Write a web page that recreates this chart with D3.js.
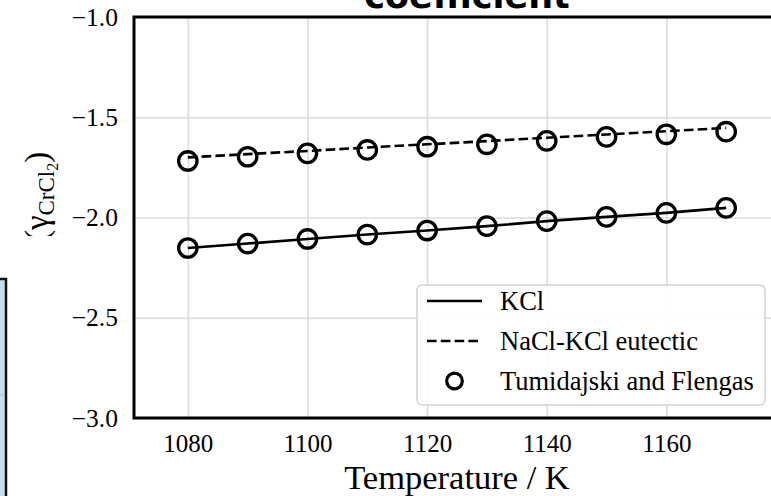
<!DOCTYPE html>
<html>
<head>
<meta charset="utf-8">
<script src="https://cdn.jsdelivr.net/npm/d3@7"></script>
<style>
  html, body { margin: 0; padding: 0; background: #fff; overflow: hidden; }
  svg { display: block; }
</style>
</head>
<body>
<svg id="chart" width="771" height="496"></svg>
<script>
// Temperatures (K)
const temperatures = [1080, 1090, 1100, 1110, 1120, 1130, 1140, 1150, 1160, 1170];
// Model curves, log activity coefficient of CrCl2
const kclModel = [-2.152, -2.130, -2.107, -2.085, -2.065, -2.043, -2.018, -1.997, -1.977, -1.952];
const eutecticModel = [-1.700, -1.684, -1.668, -1.651, -1.635, -1.619, -1.602, -1.586, -1.570, -1.553];
// Measurements (Tumidajski and Flengas)
const kclMeasured = [-2.152, -2.130, -2.107, -2.085, -2.065, -2.043, -2.018, -1.997, -1.977, -1.952];
const eutecticMeasured = [-1.718, -1.697, -1.680, -1.663, -1.647, -1.635, -1.618, -1.598, -1.585, -1.572];
// Axis ticks
const xTicks = [1080, 1100, 1120, 1140, 1160];
const yTicks = [-3.0, -2.5, -2.0, -1.5, -1.0];
const legendLabels = ["KCl", "NaCl-KCl eutectic", "Tumidajski and Flengas"];

const svg = d3.select("#chart");
const serif = "'Liberation Serif', 'Times New Roman', serif";

const plotLeft = 134, plotRight = 780, plotTop = 17, plotBottom = 418;
const x = d3.scaleLinear().domain([1071, 1179]).range([plotLeft, plotRight]);
const y = d3.scaleLinear().domain([-3, -1]).range([plotBottom, plotTop]);

// neighbouring panel fragment at the far left
svg.append("rect")
  .attr("x", -20).attr("y", 279).attr("width", 26).attr("height", 240)
  .attr("fill", "#c9dcec").attr("stroke", "#111").attr("stroke-width", 2.5);
svg.append("line")
  .attr("x1", 0).attr("x2", 4.5).attr("y1", 395).attr("y2", 395)
  .attr("stroke", "#b8c4cc").attr("stroke-width", 1.2);

// grid
const grid = svg.append("g");
grid.append("g")
  .attr("transform", `translate(0,${plotBottom})`)
  .call(d3.axisBottom(x).tickValues(xTicks).tickSize(-(plotBottom - plotTop)).tickFormat(""))
  .call(g => g.select(".domain").remove())
  .call(g => g.selectAll("line").attr("stroke", "#dcdcdc").attr("stroke-width", 1.6));
grid.append("g")
  .attr("transform", `translate(${plotLeft},0)`)
  .call(d3.axisLeft(y).tickValues(yTicks).tickSize(-(plotRight - plotLeft)).tickFormat(""))
  .call(g => g.select(".domain").remove())
  .call(g => g.selectAll("line").attr("stroke", "#dcdcdc").attr("stroke-width", 1.6));

// tick labels
svg.append("g")
  .attr("transform", `translate(0,${plotBottom})`)
  .call(d3.axisBottom(x).tickValues(xTicks).tickSize(0).tickPadding(16).tickFormat(d3.format("d")))
  .call(g => g.select(".domain").remove())
  .call(g => g.selectAll("text").attr("font-family", serif).attr("font-size", 25).attr("fill", "#000"));
svg.append("g")
  .attr("transform", `translate(${plotLeft},0)`)
  .call(d3.axisLeft(y).tickValues(yTicks).tickSize(0).tickPadding(16).tickFormat(d3.format(".1f")))
  .call(g => g.select(".domain").remove())
  .call(g => g.selectAll("text").attr("font-family", serif).attr("font-size", 25.5).attr("fill", "#000"));

// lines
const line = d3.line().x((d, i) => x(temperatures[i])).y(d => y(d));
svg.append("path").datum(kclModel).attr("d", line)
  .attr("fill", "none").attr("stroke", "#000").attr("stroke-width", 2.6);
svg.append("path").datum(eutecticModel).attr("d", line)
  .attr("fill", "none").attr("stroke", "#000").attr("stroke-width", 2.6)
  .attr("stroke-dasharray", "9.6,4.2");

// measured points
[kclMeasured, eutecticMeasured].forEach(series => {
  svg.append("g").selectAll("circle").data(series).join("circle")
    .attr("cx", (d, i) => x(temperatures[i]))
    .attr("cy", d => y(d))
    .attr("r", 9.2)
    .attr("fill", "none").attr("stroke", "#000").attr("stroke-width", 3.3);
});

// spines
svg.append("rect")
  .attr("x", plotLeft).attr("y", plotTop).attr("width", plotRight - plotLeft).attr("height", plotBottom - plotTop)
  .attr("fill", "none").attr("stroke", "#000").attr("stroke-width", 3);

// legend
const lg = svg.append("g");
lg.append("rect")
  .attr("x", 417).attr("y", 285).attr("width", 348).attr("height", 120)
  .attr("rx", 5).attr("fill", "#fff").attr("fill-opacity", 0.9)
  .attr("stroke", "#d4d4d4").attr("stroke-width", 1.5);
const rowY = [301, 341, 381];
lg.append("line").attr("x1", 427).attr("x2", 482).attr("y1", rowY[0]).attr("y2", rowY[0])
  .attr("stroke", "#000").attr("stroke-width", 2.6);
lg.append("line").attr("x1", 427).attr("x2", 482).attr("y1", rowY[1]).attr("y2", rowY[1])
  .attr("stroke", "#000").attr("stroke-width", 2.6).attr("stroke-dasharray", "9.6,4.2");
lg.append("circle").attr("cx", 454.5).attr("cy", rowY[2]).attr("r", 7.8)
  .attr("fill", "none").attr("stroke", "#000").attr("stroke-width", 3.2);
lg.selectAll("text.lab").data(legendLabels).join("text")
  .attr("class", "lab")
  .attr("x", 500).attr("y", (d, i) => rowY[i])
  .attr("dy", "0.33em")
  .attr("font-family", serif).attr("font-size", 26.5)
  .text(d => d);

// axis titles
svg.append("text")
  .attr("x", 457).attr("y", 489)
  .attr("text-anchor", "middle")
  .attr("font-family", serif).attr("font-size", 34.5)
  .text("Temperature / K");

svg.append("defs").append("clipPath").attr("id", "ylabClip")
  .append("rect").attr("x", 0).attr("y", 0).attr("width", 120).attr("height", 236);
const ylab = svg.append("g").attr("clip-path", "url(#ylabClip)")
  .append("text")
  .attr("transform", `translate(48,${(plotTop + plotBottom) / 2}) rotate(-90)`)
  .attr("text-anchor", "middle")
  .attr("font-family", serif).attr("font-size", 33);
ylab.append("tspan").text("log(");
ylab.append("tspan").text("γ");
ylab.append("tspan").attr("font-size", 23).attr("dy", 6).text("CrCl");
ylab.append("tspan").attr("font-size", 16).attr("dy", 4).text("2");
ylab.append("tspan").attr("dy", -10).text(")");

// title (lower line visible)
svg.append("text")
  .attr("x", 467).attr("y", 8)
  .attr("text-anchor", "middle")
  .attr("font-family", "'DejaVu Sans', sans-serif").attr("font-weight", "bold")
  .attr("font-size", 35)
  .text("coefficient");
</script>
</body>
</html>
